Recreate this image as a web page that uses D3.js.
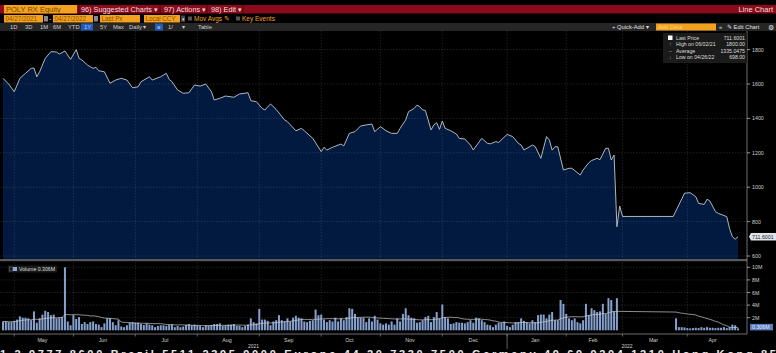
<!DOCTYPE html>
<html>
<head>
<meta charset="utf-8">
<style>
  body { margin: 0; background: #000; }
  svg { display: block; }
  text { font-family: "Liberation Sans", Arial, sans-serif; }
</style>
</head>
<body>
<script src="https://cdn.jsdelivr.net/npm/d3@7"></script>
<script>
// ---- data ----
var startDay = "2021-04-27", endDay = "2022-04-27"
var haltStart = "2022-02-28", haltEnd = "2022-03-25"   // no trading on MOEX

var priceDates = [
  "2021-04-27","2021-04-29","2021-05-03","2021-05-05","2021-05-07","2021-05-11","2021-05-12","2021-05-13","2021-05-14","2021-05-18",
  "2021-05-20","2021-05-24","2021-05-25","2021-05-27","2021-05-31","2021-06-02","2021-06-03","2021-06-04","2021-06-08","2021-06-10",
  "2021-06-11","2021-06-14","2021-06-16","2021-06-18","2021-06-22","2021-06-24","2021-06-28","2021-06-30","2021-07-02","2021-07-05",
  "2021-07-08","2021-07-09","2021-07-14","2021-07-16","2021-07-19","2021-07-20","2021-07-22","2021-07-26","2021-07-28","2021-07-30",
  "2021-08-03","2021-08-05","2021-08-09","2021-08-10","2021-08-12","2021-08-16","2021-08-19","2021-08-23","2021-08-26","2021-08-27",
  "2021-08-31","2021-09-02","2021-09-03","2021-09-07","2021-09-09","2021-09-14","2021-09-15","2021-09-20","2021-09-22","2021-09-23",
  "2021-09-28","2021-10-01","2021-10-04","2021-10-05","2021-10-07","2021-10-12","2021-10-13","2021-10-15","2021-10-19","2021-10-21",
  "2021-10-25","2021-10-27","2021-10-28","2021-11-01","2021-11-03","2021-11-05","2021-11-09","2021-11-10","2021-11-12","2021-11-15",
  "2021-11-17","2021-11-18","2021-11-19","2021-11-22","2021-11-23","2021-11-25","2021-11-26","2021-11-29","2021-11-30","2021-12-01",
  "2021-12-02","2021-12-06","2021-12-08","2021-12-09","2021-12-13","2021-12-15","2021-12-16","2021-12-21","2021-12-23","2021-12-24",
  "2021-12-28","2021-12-29","2022-01-03","2022-01-05","2022-01-07","2022-01-10","2022-01-11","2022-01-14","2022-01-17","2022-01-19",
  "2022-01-21","2022-01-24","2022-01-25","2022-01-26","2022-01-27","2022-01-31","2022-02-02","2022-02-03","2022-02-08","2022-02-09",
  "2022-02-11","2022-02-14","2022-02-16","2022-02-17","2022-02-21","2022-02-22","2022-02-23","2022-02-24","2022-02-25","2022-02-28",
  "2022-03-01","2022-03-25","2022-03-29","2022-03-31","2022-04-04","2022-04-06","2022-04-07","2022-04-11","2022-04-12","2022-04-13",
  "2022-04-15","2022-04-18","2022-04-21","2022-04-22","2022-04-25","2022-04-26","2022-04-27"
]
var priceValues = [
  1633,1600,1555,1633,1662,1691,1693,1642,1671,1749,
  1788,1786,1774,1792,1743,1800,1749,1740,1710,1691,
  1697,1677,1671,1604,1623,1633,1623,1578,1584,1613,
  1642,1623,1642,1662,1627,1613,1565,1546,1549,1594,
  1588,1600,1555,1507,1517,1530,1523,1542,1549,1503,
  1497,1458,1449,1484,1452,1391,1381,1328,1342,1328,
  1284,1207,1232,1216,1232,1251,1240,1313,1323,1356,
  1362,1367,1323,1352,1328,1313,1313,1342,1391,1439,
  1458,1477,1468,1449,1446,1333,1362,1375,1336,1385,
  1342,1328,1309,1284,1280,1245,1216,1284,1255,1252,
  1265,1260,1307,1294,1255,1245,1216,1245,1236,1168,
  1294,1274,1216,1235,1235,1100,1110,1110,1071,1100,
  1142,1155,1168,1160,1226,1226,1158,1187,770,890,
  830,830,897,965,968,945,906,900,930,920,
  858,848,829,760,712,698,711.6
]

// daily volume in millions, traded days only
var volume = [
  1.4,1.4,1.3,1.3,
  1.5,1.7,2.2,2.0,2.0,1.9,1.6,3.0,1.2,1.9,2.5,3.1,2.9,2.4,2.5,1.9,2.0,2.1,10.0,1.4,0.8,
  2.4,1.8,2.1,1.0,1.3,1.0,1.3,1.4,1.0,0.9,0.5,1.1,1.9,1.9,1.3,0.8,1.6,0.6,0.5,0.8,1.2,1.3,
  1.2,1.2,1.0,0.85,1.1,0.9,0.8,0.5,0.7,0.8,0.8,0.7,0.85,0.9,0.5,0.7,0.5,0.6,0.85,1.0,0.8,0.9,
  0.8,0.7,0.5,0.8,0.75,0.85,1.0,1.0,1.1,0.7,0.8,0.9,0.9,1.0,0.7,0.7,0.5,0.7,0.9,1.9,1.3,1.1,
  3.4,1.7,1.7,1.5,0.8,1.4,1.6,2.4,1.6,1.4,1.9,1.4,2.0,2.3,2.0,1.9,1.4,1.3,1.5,1.6,3.3,2.4,
  2.5,1.7,1.3,1.6,1.4,2.0,1.4,1.9,1.6,2.1,3.5,3.4,2.6,2.0,2.0,2.0,1.3,1.9,1.4,2.3,1.7,
  1.1,0.9,1.1,0.9,1.4,0.9,1.9,1.4,2.6,3.5,2.4,2.0,1.9,1.2,1.3,1.6,2.1,2.3,1.3,2.1,2.9,1.9,
  4.1,2.1,1.9,1.0,1.1,1.3,1.2,1.2,1.1,1.3,1.6,1.2,2.0,1.9,1.6,1.3,0.9,0.8,0.5,0.9,1.2,1.2,1.4,
  0.7,0.5,0.9,1.3,1.3,1.9,1.5,1.3,1.1,1.6,1.3,2.4,2.5,2.5,1.9,2.5,2.9,1.6,1.6,4.8,4.2,
  2.6,1.9,1.6,1.9,1.3,1.1,1.6,4.2,2.4,3.5,3.2,2.9,3.0,4.2,2.6,5.1,4.8,3.0,5.1,
  1.9,0.5,0.5,0.45,
  0.35,0.3,0.35,0.4,0.35,0.5,0.4,0.5,0.4,0.4,0.35,0.4,0.4,0.5,0.35,0.5,0.9,0.8,0.306
]

var priceTicks = [600, 800, 1000, 1200, 1400, 1600, 1800]
var volumeTicks = [2, 4, 6, 8, 10]
var volumeTickLabels = ["2M", "4M", "6M", "8M", "10M"]
var monthLabels = ["May","Jun","Jul","Aug","Sep","Oct","Nov","Dec","Jan","Feb","Mar","Apr"]
var yearLabels = ["2021", "2022"]

var legendRows = [
  ["Last Price", "711.6001"],
  ["High on 06/02/21", "1800.00"],
  ["Average", "1335.0475"],
  ["Low on 04/26/22", "698.00"]
]

// ---- layout ----
var width = 776, height = 353
var plotL = 3, plotR = 738, axisX = 747
var priceTop = 31, priceBottom = 259
var volTop = 262, volBottom = 333

var parse = d3.utcParse("%Y-%m-%d")
var days = d3.utcDay.range(parse(startDay), d3.utcDay.offset(parse(endDay), 1))
  .filter(function(d){ return d.getUTCDay() != 0 && d.getUTCDay() != 6 })
var h0 = parse(haltStart), h1 = parse(haltEnd)
var traded = days.filter(function(d){ return d < h0 || d > h1 })

var step = (plotR - plotL) / (days.length - 1)
var x = d3.scaleTime()
  .domain(days)
  .range(days.map(function(d, i){ return plotL + i * step }))
var y = d3.scaleLinear().domain([600, 1800]).range([256, 49.6])
var yv = d3.scaleLinear().domain([0, 10]).range([330.3, 267.3])

var price = priceDates.map(function(d, i){ return { date: parse(d), value: priceValues[i] } })
var vol = traded.map(function(d, i){ return { date: d, value: volume[i] } })
var ma = vol.map(function(d, i){
  var w = vol.slice(Math.max(0, i - 19), i + 1)
  return { date: d.date, value: d3.mean(w, function(e){ return e.value }) }
})

var svg = d3.select('body').append('svg').attr('width', width).attr('height', height)
svg.append('rect').attr('width', width).attr('height', height).attr('fill', '#000')

// ---- header bars ----
var hdr = svg.append('g')
hdr.append('rect').attr('x', 0).attr('y', 5).attr('width', width).attr('height', 8.5).attr('fill', '#8b0b1c')
hdr.append('rect').attr('x', 4).attr('y', 5).attr('width', 73).attr('height', 8.5).attr('fill', '#f4a21e')
hdr.append('text').attr('x', 6).attr('y', 12).attr('font-size', 7.5).attr('fill', '#7a4800').text('POLY RX Equity')
;[[81, '96) Suggested Charts \u25BE'], [164, '97) Actions \u25BE'], [211, '98) Edit \u25BE']].forEach(function(m){
  hdr.append('text').attr('x', m[0]).attr('y', 12).attr('font-size', 7.3).attr('fill', '#f5dede').text(m[1])
})
;[79, 160, 207, 243].forEach(function(s){
  hdr.append('line').attr('x1', s).attr('x2', s).attr('y1', 5).attr('y2', 13.5).attr('stroke', '#4a0610').attr('stroke-width', 1)
})
hdr.append('text').attr('x', 773).attr('y', 12).attr('text-anchor', 'end').attr('font-size', 7.5).attr('fill', '#f5dede').text('Line Chart')

// second row: orange input boxes
var boxes = [[4, 39, '04/27/2021'], [53, 40, '04/27/2022'], [100, 40, 'Last Px'], [144, 36, 'Local CCY']]
boxes.forEach(function(b){
  hdr.append('rect').attr('x', b[0]).attr('y', 15).attr('width', b[1]).attr('height', 7.5).attr('fill', '#f4a21e')
  hdr.append('text').attr('x', b[0] + 1.5).attr('y', 21).attr('font-size', 6.3).attr('fill', '#8a5200').text(b[2])
})
;[44, 94].forEach(function(c){
  hdr.append('rect').attr('x', c).attr('y', 16).attr('width', 4).attr('height', 5.5).attr('fill', '#8a8a8a')
})
hdr.append('text').attr('x', 49).attr('y', 21).attr('font-size', 6.3).attr('fill', '#ccc').text('-')
hdr.append('rect').attr('x', 181).attr('y', 15.5).attr('width', 4).attr('height', 6.5).attr('fill', '#444')
hdr.append('text').attr('x', 181.5).attr('y', 21).attr('font-size', 5).attr('fill', '#ddd').text('\u25BE')
;[[188, 'Mov Avgs \u270E'], [236, 'Key Events']].forEach(function(k){
  hdr.append('rect').attr('x', k[0]).attr('y', 16.5).attr('width', 4).attr('height', 4).attr('fill', '#555')
  hdr.append('text').attr('x', k[0] + 6).attr('y', 21).attr('font-size', 6.5).attr('fill', '#f4a21e').text(k[1])
})

// third row: gray toolbar
hdr.append('rect').attr('x', 0).attr('y', 23).attr('width', width).attr('height', 8).attr('fill', '#262626')
hdr.append('rect').attr('x', 81).attr('y', 23.5).attr('width', 12).attr('height', 7).attr('fill', '#1d5bc4')
hdr.append('rect').attr('x', 155).attr('y', 23.5).attr('width', 8).attr('height', 7).attr('fill', '#1d5bc4')
;[[10,'1D'],[25,'3D'],[40,'1M'],[53,'6M'],[68,'YTD'],[84,'1Y'],[100,'5Y'],[113,'Max'],[129,'Daily \u25BE'],[157,'\u2261'],[168,'1/'],[182,'\u25BE'],[198,'Table']]
  .forEach(function(t){
    hdr.append('text').attr('x', t[0]).attr('y', 29.3).attr('font-size', 5.8).attr('fill', '#cfcfcf').text(t[1])
  })
hdr.append('text').attr('x', 612).attr('y', 29.3).attr('font-size', 5.8).attr('fill', '#e0e0e0').text('+ Quick-Add \u25BE')
hdr.append('rect').attr('x', 656).attr('y', 23.5).attr('width', 60).attr('height', 7).attr('fill', '#f4a21e')
hdr.append('text').attr('x', 658).attr('y', 29.3).attr('font-size', 5.8).attr('fill', '#fbd28a').text('Add Data')
hdr.append('text').attr('x', 719).attr('y', 29.3).attr('font-size', 5.8).attr('fill', '#e0e0e0').text('\u00AB')
hdr.append('text').attr('x', 727).attr('y', 29.3).attr('font-size', 5.8).attr('fill', '#e0e0e0').text('\u270E Edit Chart')
hdr.append('text').attr('x', 768).attr('y', 29.5).attr('font-size', 6.5).attr('fill', '#e0e0e0').text('\u2699')

// ---- price panel ----
var area = d3.area()
  .x(function(d){ return x(d.date) })
  .y0(priceBottom)
  .y1(function(d){ return y(d.value) })
var line = d3.line()
  .x(function(d){ return x(d.date) })
  .y(function(d){ return y(d.value) })

svg.append('path').datum(price).attr('d', area).attr('fill', '#021a3f')

// grid
var months = d3.utcMonth.range(parse("2021-05-01"), parse("2022-05-01"))
var monthIdx = months.map(function(m){ return d3.bisectLeft(days, m) })
var grid = svg.append('g').attr('stroke', 'rgba(140,150,165,0.35)').attr('stroke-width', 0.6).attr('stroke-dasharray', '1.5,1.5')
monthIdx.forEach(function(i){
  var gx = x(days[i])
  grid.append('line').attr('x1', gx).attr('x2', gx).attr('y1', priceTop).attr('y2', priceBottom)
  grid.append('line').attr('x1', gx).attr('x2', gx).attr('y1', volTop).attr('y2', volBottom)
})
priceTicks.forEach(function(t){
  grid.append('line').attr('x1', 0).attr('x2', axisX).attr('y1', y(t)).attr('y2', y(t))
})
volumeTicks.forEach(function(t){
  grid.append('line').attr('x1', 0).attr('x2', axisX).attr('y1', yv(t)).attr('y2', yv(t))
})

svg.append('path').datum(price).attr('d', line).attr('fill', 'none').attr('stroke', '#c3c8cf').attr('stroke-width', 0.9)

// panel separator
svg.append('rect').attr('x', 0).attr('y', priceBottom).attr('width', axisX).attr('height', 2.2).attr('fill', '#5a5a5a')

// ---- volume panel ----
svg.append('g').selectAll('rect').data(vol).enter().append('rect')
  .attr('x', function(d){ return x(d.date) - 1 })
  .attr('y', function(d){ return yv(d.value) })
  .attr('width', 2)
  .attr('height', function(d){ return yv(0) - yv(d.value) })
  .attr('fill', '#86a1cf')

svg.append('path').datum(ma)
  .attr('d', d3.line().x(function(d){ return x(d.date) }).y(function(d){ return yv(d.value) }))
  .attr('fill', 'none').attr('stroke', '#c9c9c9').attr('stroke-width', 0.7)

// ---- axes ----
var ax = svg.append('g')
ax.append('line').attr('x1', axisX).attr('x2', axisX).attr('y1', priceTop).attr('y2', volBottom + 1).attr('stroke', '#8a8a8a').attr('stroke-width', 0.8)
ax.append('line').attr('x1', 0).attr('x2', axisX).attr('y1', volBottom + 1).attr('y2', volBottom + 1).attr('stroke', '#8a8a8a').attr('stroke-width', 0.8)

priceTicks.forEach(function(t){
  ax.append('line').attr('x1', axisX).attr('x2', axisX + 3).attr('y1', y(t)).attr('y2', y(t)).attr('stroke', '#bbb').attr('stroke-width', 0.8)
  ax.append('text').attr('x', axisX + 5).attr('y', y(t) + 2).attr('font-size', 5.3).attr('fill', '#cfcfcf').text(t)
})
volumeTicks.forEach(function(t, i){
  ax.append('line').attr('x1', axisX).attr('x2', axisX + 3).attr('y1', yv(t)).attr('y2', yv(t)).attr('stroke', '#bbb').attr('stroke-width', 0.8)
  ax.append('text').attr('x', axisX + 5).attr('y', yv(t) + 2).attr('font-size', 5.3).attr('fill', '#cfcfcf').text(volumeTickLabels[i])
})

// month ticks and labels
monthIdx.forEach(function(i, k){
  var gx = x(days[i])
  ax.append('line').attr('x1', gx).attr('x2', gx).attr('y1', volBottom + 1).attr('y2', volBottom + 3.5).attr('stroke', '#8a8a8a').attr('stroke-width', 0.7)
  var end = k < monthIdx.length - 1 ? monthIdx[k + 1] - 1 : days.length - 1
  var cx = (x(days[i]) + x(days[end])) / 2
  ax.append('text').attr('x', cx).attr('y', 342).attr('text-anchor', 'middle').attr('font-size', 5.3).attr('fill', '#cfcfcf').text(monthLabels[k])
})
var janX = x(days[monthIdx[8]])
ax.append('line').attr('x1', janX).attr('x2', janX).attr('y1', volBottom + 1).attr('y2', 349).attr('stroke', '#8a8a8a').attr('stroke-width', 0.7)
ax.append('text').attr('x', janX / 2).attr('y', 347.6).attr('text-anchor', 'middle').attr('font-size', 5).attr('fill', '#cfcfcf').text(yearLabels[0])
ax.append('text').attr('x', (janX + axisX) / 2).attr('y', 347.6).attr('text-anchor', 'middle').attr('font-size', 5).attr('fill', '#cfcfcf').text(yearLabels[1])

// ---- last value tags ----
var last = price[price.length - 1]
var tag = svg.append('g')
tag.append('path').attr('d', 'M' + (axisX + 2) + ',' + y(last.value) + 'l2,-3.8h25v7.6h-25z').attr('fill', '#dfe4ec')
tag.append('text').attr('x', axisX + 5).attr('y', y(last.value) + 2).attr('font-size', 5.3).attr('fill', '#222').text(legendRows[0][1])
var lastVol = vol[vol.length - 1]
tag.append('rect').attr('x', axisX + 3).attr('y', yv(lastVol.value) - 4.5).attr('width', 23).attr('height', 6.5).attr('fill', '#587cbc')
tag.append('text').attr('x', axisX + 5).attr('y', yv(lastVol.value) + 0.3).attr('font-size', 5.3).attr('fill', '#e8eef8').text(lastVol.value.toFixed(3) + 'M')

// ---- legends ----
var lg = svg.append('g')
lg.append('rect').attr('x', 663).attr('y', 33).attr('width', 84).attr('height', 30).attr('fill', '#1b1b1b')
lg.append('rect').attr('x', 668).attr('y', 35.5).attr('width', 4.5).attr('height', 4.5).attr('fill', '#fff')
var marks = ['', '\u2191', '\u2013', '\u2193']
legendRows.forEach(function(r, i){
  var ry = 40 + i * 6.4
  if (i > 0) lg.append('text').attr('x', 669).attr('y', ry).attr('font-size', 5.2).attr('fill', '#aaa').text(marks[i])
  lg.append('text').attr('x', 676).attr('y', ry).attr('font-size', 5.2).attr('fill', '#ddd').text(r[0])
  lg.append('text').attr('x', 745).attr('y', ry).attr('text-anchor', 'end').attr('font-size', 5.2).attr('fill', '#ddd').text(r[1])
})

lg.append('rect').attr('x', 8).attr('y', 265.5).attr('width', 49).attr('height', 7).attr('fill', '#1b1b1b')
lg.append('rect').attr('x', 9.5).attr('y', 267).attr('width', 3).attr('height', 4).attr('fill', 'none').attr('stroke', '#777').attr('stroke-width', 0.5)
lg.append('rect').attr('x', 13).attr('y', 267).attr('width', 4).attr('height', 4).attr('fill', '#8fa9d6')
lg.append('text').attr('x', 19).attr('y', 271).attr('font-size', 5.2).attr('fill', '#ddd').text('Volume ' + lastVol.value.toFixed(3) + 'M')

// ---- footer strip (cut by the bottom edge, as on the screenshot) ----
svg.append('text').attr('x', 0).attr('y', 358).attr('font-size', 11).attr('font-weight', 'bold')
  .attr('fill', '#e8e8e8').attr('textLength', width).attr('lengthAdjust', 'spacing')
  .text('1 2 9777 8600 Brazil 5511 2395 9000 Europe 44 20 7330 7500 Germany 49 69 9204 1210 Hong Kong 85')
</script>
</body>
</html>
